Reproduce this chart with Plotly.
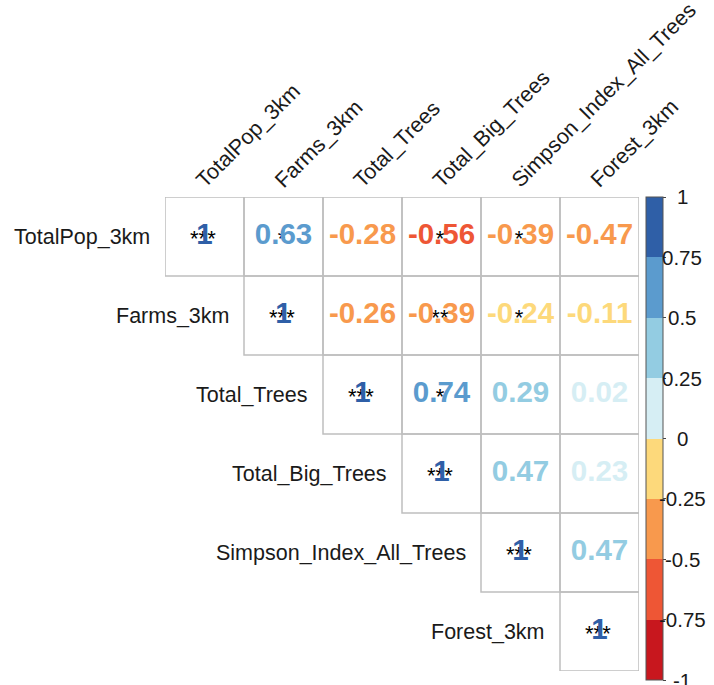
import plotly.graph_objects as go

# Variables (same order on both axes)
variables = ["TotalPop_3km", "Farms_3km", "Total_Trees", "Total_Big_Trees",
             "Simpson_Index_All_Trees", "Forest_3km"]

# Upper-triangle correlation coefficients, one list per row (starting at the diagonal)
corr_row_totalpop = [1, 0.63, -0.28, -0.56, -0.39, -0.47]
corr_row_farms = [1, -0.26, -0.39, -0.24, -0.11]
corr_row_trees = [1, 0.74, 0.29, 0.02]
corr_row_bigtrees = [1, 0.47, 0.23]
corr_row_simpson = [1, 0.47]
corr_row_forest = [1]

# Significance stars, same layout as the coefficients
sig_row_totalpop = ["***", "*", "", "*", "*", ""]
sig_row_farms = ["***", "", "**", "*", ""]
sig_row_trees = ["***", "*", "", ""]
sig_row_bigtrees = ["***", "", ""]
sig_row_simpson = ["***", ""]
sig_row_forest = ["***"]

# Colour legend: 8 equal bins from -1 to 1
bin_colors = ["#C8171E", "#EE5635", "#F8994D", "#FDD97B",
              "#D6EEF4", "#93CCE2", "#5B9BCE", "#2F5FA7"]
cbar_tickvals = [1, 0.75, 0.5, 0.25, 0, -0.25, -0.5, -0.75, -1]
cbar_ticktext = ["1", "0.75", "0.5", "0.25", "0", "-0.25", "-0.5", "-0.75", "-1"]

corr_rows = [corr_row_totalpop, corr_row_farms, corr_row_trees,
             corr_row_bigtrees, corr_row_simpson, corr_row_forest]
sig_rows = [sig_row_totalpop, sig_row_farms, sig_row_trees,
            sig_row_bigtrees, sig_row_simpson, sig_row_forest]

FONT = "Liberation Sans, Arial, Helvetica, sans-serif"
W, H = 714, 685
GRID_PX = (165, 639, 197, 671)   # left, right, top, bottom of the cell block
CB_PX = (646, 663, 197, 680)     # colour bar left, right, top, bottom
n = len(variables)


def color_for(v):
    k = int((v + 1) / 2 * len(bin_colors))
    return bin_colors[min(max(k, 0), len(bin_colors) - 1)]


def fmt(v):
    return "1" if v == 1 else f"{v:.2f}"


xs, ys, txt, cols = [], [], [], []
sx, sy, stxt = [], [], []
shapes = []
for i, (crow, srow) in enumerate(zip(corr_rows, sig_rows)):
    for k, (v, s) in enumerate(zip(crow, srow)):
        j = i + k
        xs.append(j)
        ys.append(i)
        txt.append(fmt(v))
        cols.append(color_for(v))
        if s:
            sx.append(j - 0.02)
            sy.append(i + 0.045)
            stxt.append(s)
        shapes.append(dict(type="rect", xref="x", yref="y",
                           x0=j - 0.5, x1=j + 0.5, y0=i - 0.5, y1=i + 0.5,
                           line=dict(color="#BFBFBF", width=1.5),
                           fillcolor="rgba(0,0,0,0)", layer="below"))

fig = go.Figure()

# significance stars (underneath the coefficients)
fig.add_trace(go.Scatter(
    x=sx, y=sy, mode="text", text=stxt, textposition="middle center",
    textfont=dict(family=FONT, size=22, color="#000000"),
    hoverinfo="skip", showlegend=False))

# coefficients coloured by value
fig.add_trace(go.Scatter(
    x=xs, y=ys, mode="text", text=txt, textposition="middle center",
    textfont=dict(family=FONT, size=29.5, color=cols, weight="bold"),
    hoverinfo="skip", showlegend=False))

# colour bar carrier
scale = []
nb = len(bin_colors)
for k, c in enumerate(bin_colors):
    scale.append([k / nb, c])
    scale.append([(k + 1) / nb, c])

cb_len = CB_PX[3] - CB_PX[2]
cb_mid = 1 - (CB_PX[2] + CB_PX[3]) / 2 / H
fig.add_trace(go.Scatter(
    x=[None], y=[None], mode="markers",
    marker=dict(color=[-1, 1], cmin=-1, cmax=1, colorscale=scale, size=0,
                showscale=True,
                colorbar=dict(x=CB_PX[0] / W, xanchor="left", xpad=0, ypad=0,
                              y=cb_mid, yanchor="middle",
                              thickness=CB_PX[1] - CB_PX[0],
                              lenmode="pixels", len=cb_len,
                              outlinecolor="#555555", outlinewidth=1,
                              tickvals=cbar_tickvals, ticks="outside",
                              ticklen=3, tickcolor="#444444", tickwidth=1,
                              showticklabels=False)),
    hoverinfo="skip", showlegend=False))

annotations = []
# colour bar labels
cb_bottom = 1 - CB_PX[3] / H
for v, t in zip(cbar_tickvals, cbar_ticktext):
    annotations.append(dict(
        xref="paper", yref="paper", x=682 / W,
        y=cb_bottom + (v + 1) / 2 * cb_len / H,
        text=t, showarrow=False, xanchor="center", yanchor="middle",
        font=dict(family=FONT, size=20.5, color="#1a1a1a")))

# row labels to the left of each diagonal cell
for i, name in enumerate(variables):
    annotations.append(dict(
        xref="x", yref="y", x=i - 0.5, y=i, text=name, showarrow=False,
        xanchor="right", yanchor="middle", xshift=-13,
        font=dict(family=FONT, size=21.5, color="#1a1a1a")))

# column labels, rotated 45 degrees above the top row
for j, name in enumerate(variables):
    annotations.append(dict(
        xref="x", yref="y", x=j, y=-0.5, text=name, showarrow=False,
        textangle=-45, xanchor="left", yanchor="bottom",
        xshift=-16, yshift=2,
        font=dict(family=FONT, size=21.5, color="#1a1a1a")))

fig.update_layout(
    width=W, height=H, margin=dict(l=0, r=0, t=0, b=0),
    paper_bgcolor="white", plot_bgcolor="white",
    xaxis=dict(domain=[GRID_PX[0] / W, GRID_PX[1] / W], range=[-0.5, n - 0.5],
               showgrid=False, zeroline=False, showticklabels=False, fixedrange=True),
    yaxis=dict(domain=[1 - GRID_PX[3] / H, 1 - GRID_PX[2] / H],
               range=[n - 0.5, -0.5],
               showgrid=False, zeroline=False, showticklabels=False, fixedrange=True),
    shapes=shapes, annotations=annotations, showlegend=False)

fig.write_html("out.html")
